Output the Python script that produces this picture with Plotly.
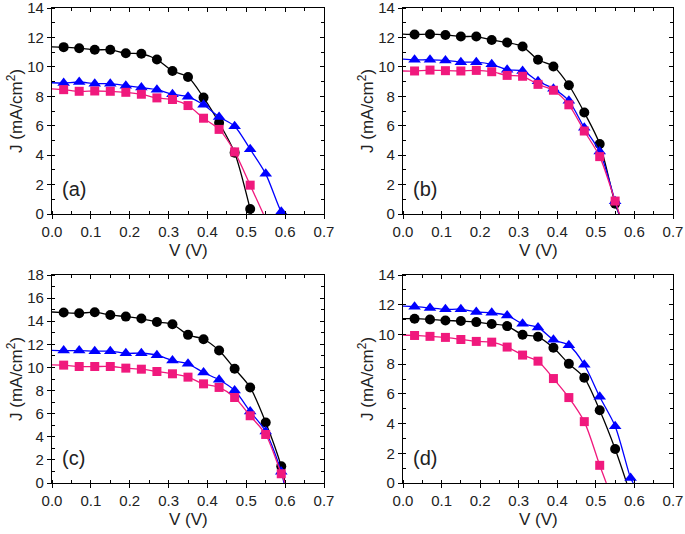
import plotly.graph_objects as go

# ---------------- data ----------------
V_pts = [0.03, 0.07, 0.11, 0.15, 0.19, 0.23, 0.27, 0.31, 0.35, 0.39, 0.43, 0.47, 0.51, 0.55, 0.59]

# panel (a)
a_black = [11.34, 11.27, 11.16, 11.16, 10.93, 10.89, 10.50, 9.72, 9.31, 7.91, 6.20, 4.17, 0.34]
a_blue = [8.90, 8.97, 8.86, 8.86, 8.72, 8.59, 8.45, 8.14, 7.96, 7.42, 6.60, 5.97, 4.40, 2.73, 0.16]
a_pink = [8.45, 8.34, 8.36, 8.34, 8.27, 8.14, 7.89, 7.78, 7.37, 6.51, 5.75, 4.22, 1.96]
# panel (b)
b_black = [12.20, 12.22, 12.17, 12.06, 12.06, 11.83, 11.65, 11.38, 10.48, 10.03, 8.75, 6.90, 4.76, 0.70]
b_blue = [10.48, 10.48, 10.44, 10.32, 10.32, 10.17, 9.80, 9.72, 9.02, 8.52, 7.69, 5.86, 4.24, 0.86]
b_pink = [9.72, 9.78, 9.74, 9.72, 9.76, 9.67, 9.42, 9.36, 8.81, 8.41, 7.42, 5.64, 3.90, 0.88]
# panel (c)
c_black = [14.75, 14.69, 14.78, 14.54, 14.40, 14.23, 13.94, 13.74, 12.82, 12.44, 11.46, 9.88, 8.27, 5.24, 1.44]
c_blue = [11.46, 11.46, 11.41, 11.41, 11.23, 11.23, 11.06, 10.60, 10.31, 9.56, 8.93, 8.00, 6.19, 4.46, 0.98]
c_pink = [10.20, 10.08, 10.08, 10.08, 9.94, 9.85, 9.65, 9.45, 9.16, 8.58, 8.27, 7.40, 5.82, 4.20, 0.80]
# panel (d)
d_black = [11.06, 11.01, 10.94, 10.90, 10.83, 10.70, 10.56, 9.98, 9.84, 9.10, 8.02, 7.08, 4.90, 2.29]
d_blue = [11.87, 11.78, 11.69, 11.69, 11.51, 11.46, 11.28, 10.72, 10.47, 9.64, 9.28, 7.96, 5.80, 3.82, 0.34]
d_pink = [9.93, 9.87, 9.80, 9.66, 9.53, 9.48, 9.15, 8.61, 8.20, 7.03, 5.75, 4.13, 1.19]

# short-circuit current (V = 0) and open-circuit voltage (J = 0) of each curve
Jsc = {"a": [11.36, 8.92, 8.50], "b": [12.22, 10.52, 9.72],
       "c": [14.80, 11.48, 10.22], "d": [11.06, 11.90, 9.96]}
Voc = {"a": [0.513, 0.597, 0.544], "b": [0.560, 0.560, 0.561],
       "c": [0.600, 0.597, 0.600], "d": [0.580, 0.597, 0.527]}

panel_labels = ["(a)", "(b)", "(c)", "(d)"]
y_max = [14, 14, 18, 14]
x_ticks = [0.0, 0.1, 0.2, 0.3, 0.4, 0.5, 0.6, 0.7]

series = {"a": [a_black, a_blue, a_pink], "b": [b_black, b_blue, b_pink],
          "c": [c_black, c_blue, c_pink], "d": [d_black, d_blue, d_pink]}

# ---------------- styling ----------------
colors = ["#000000", "#0000FF", "#F0197D"]
symbols = ["circle", "triangle-up", "square"]
msizes = [10, 11, 9]
FONT = "Liberation Sans, Arial, sans-serif"

W, H = 685, 534
# plot-area pixel boxes: (left, right, top, bottom)
boxes = [(52, 324, 8, 214), (403, 673, 8, 214), (52, 324, 275, 483), (403, 673, 275, 483)]

fig = go.Figure()
layout = dict(width=W, height=H, margin=dict(l=0, r=0, t=0, b=0, autoexpand=False),
              paper_bgcolor="white", plot_bgcolor="white", showlegend=False,
              font=dict(family=FONT, color="#222"), annotations=[])

for i, key in enumerate(["a", "b", "c", "d"]):
    n = i + 1
    xa, ya = f"x{n}", f"y{n}"
    for s in range(3):
        ys = series[key][s]
        xs = V_pts[:len(ys)]
        # smooth connecting line
        fig.add_trace(go.Scatter(
            x=[0.0] + xs + [Voc[key][s]], y=[Jsc[key][s]] + ys + [0.0],
            mode="lines", line=dict(color=colors[s], width=1.3, shape="spline", smoothing=0.8),
            xaxis=xa, yaxis=ya, hoverinfo="skip"))
        fig.add_trace(go.Scatter(
            x=xs, y=ys, mode="markers",
            marker=dict(color=colors[s], symbol=symbols[s], size=msizes[s], line=dict(width=0)),
            xaxis=xa, yaxis=ya, cliponaxis=False))
    # dummy trace for mirror (top/right) axes
    fig.add_trace(go.Scatter(x=[None], y=[None], xaxis=f"x{n+4}", yaxis=f"y{n+4}",
                             hoverinfo="skip", showlegend=False))

    l, r, t, b = boxes[i]
    xd = [l / W, r / W]
    yd = [(H - b) / H, (H - t) / H]
    common = dict(showgrid=False, zeroline=False, showline=True, linecolor="black", linewidth=1.2,
                  tickcolor="black", tickwidth=1, automargin=False, ticklabeloverflow="allow",
                  tickfont=dict(size=15, family=FONT, color="#222"))
    layout[f"xaxis{n}"] = dict(domain=xd, anchor=ya, range=[0, 0.7], tickvals=x_ticks,
                               tickformat=".1f", ticks="outside", ticklen=4,
                               minor=dict(dtick=0.05, ticks="inside", ticklen=3, tickcolor="black"),
                               **common)
    layout[f"yaxis{n}"] = dict(domain=yd, anchor=xa, range=[0, y_max[i]], dtick=2,
                               ticks="outside", ticklen=4,
                               minor=dict(dtick=1, ticks="inside", ticklen=3, tickcolor="black"),
                               **common)
    mirror_common = dict(ticks="inside", ticklen=4, showticklabels=False, automargin=False,
                         showgrid=False, zeroline=False, showline=True, linecolor="black",
                         linewidth=1.2, tickcolor="black")
    layout[f"xaxis{n+4}"] = dict(overlaying=xa, side="top", anchor=ya, range=[0, 0.7], dtick=0.1,
                                 minor=dict(dtick=0.05, ticks="inside", ticklen=3, tickcolor="black"),
                                 **mirror_common)
    layout[f"yaxis{n+4}"] = dict(overlaying=ya, side="right", anchor=xa, range=[0, y_max[i]], dtick=2,
                                 minor=dict(dtick=1, ticks="inside", ticklen=3, tickcolor="black"),
                                 **mirror_common)

    # panel label
    layout["annotations"].append(dict(
        text=panel_labels[i], x=0.02, y=y_max[i] * 0.12, xref=xa, yref=ya,
        xanchor="left", yanchor="middle", showarrow=False,
        font=dict(size=20, family=FONT, color="#222")))
    # x title
    layout["annotations"].append(dict(
        text="V (V)", x=(l + r) / 2 / W, y=(H - (b + 36)) / H, xref="paper", yref="paper",
        xanchor="center", yanchor="middle", showarrow=False,
        font=dict(size=17, family=FONT, color="#222")))
    # y title
    layout["annotations"].append(dict(
        text="J (mA/cm<sup>2</sup>)", x=(l - 37) / W, y=(H - (t + b) / 2) / H,
        xref="paper", yref="paper", xanchor="center", yanchor="middle", textangle=-90,
        showarrow=False, font=dict(size=17, family=FONT, color="#222")))

fig.update_layout(**layout)
fig.write_html("out.html", config={"displayModeBar": False},
               post_script="document.body.style.margin='0';document.body.style.overflow='hidden';")
